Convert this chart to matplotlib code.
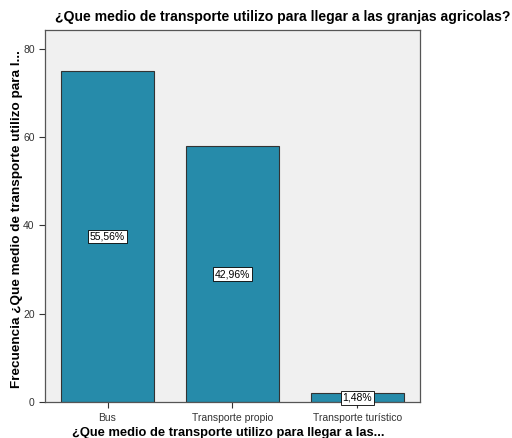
import matplotlib
matplotlib.use("Agg")
import matplotlib.pyplot as plt

# Frecuencias por medio de transporte
categorias = ["Bus", "Transporte propio", "Transporte turístico"]
frecuencias = [75, 58, 2]
porcentajes = ["55,56%", "42,96%", "1,48%"]

plt.rcParams["font.family"] = ["Liberation Sans", "DejaVu Sans"]

fig = plt.figure(figsize=(5.12, 4.38), dpi=100)
ax = fig.add_axes([0.088, 0.082, 0.732, 0.850])
ax.set_facecolor("#F0F0F0")

x = list(range(len(categorias)))
ax.bar(x, frecuencias, width=0.75, color="#268BAA", edgecolor="#333333", linewidth=0.8, zorder=2)

# Etiquetas de porcentaje a media altura de cada barra
for xi, f, p in zip(x, frecuencias, porcentajes):
    ax.text(xi, f / 2, p, ha="center", va="center", fontsize=7.5, zorder=3,
            bbox=dict(boxstyle="square,pad=0.18", facecolor="white", edgecolor="black", linewidth=0.6))

ax.set_xlim(-0.5, 2.5)
ax.set_ylim(0, 84.3)
ax.set_yticks([0, 20, 40, 60, 80])
ax.set_xticks(x)
ax.set_xticklabels(categorias)
ax.tick_params(axis="both", labelsize=7.5, length=4, width=0.8, color="#333333", labelcolor="#333333")

for s in ax.spines.values():
    s.set_color("#555555")
    s.set_linewidth(0.9)

ax.set_xlabel("¿Que medio de transporte utilizo para llegar a las...", fontsize=9.3, fontweight="bold")
ax.xaxis.set_label_coords(0.49, -0.066)
fig.text(17 / 512, 1 - 219 / 438, "Frecuencia ¿Que medio de transporte utilizo para l...",
         rotation=90, ha="center", va="center", fontsize=9.7, fontweight="bold")
fig.text(0.552, 0.962, "¿Que medio de transporte utilizo para llegar a las granjas agricolas?",
         ha="center", va="center", fontsize=10.1, fontweight="bold")

fig.savefig("out.png", dpi=100)
